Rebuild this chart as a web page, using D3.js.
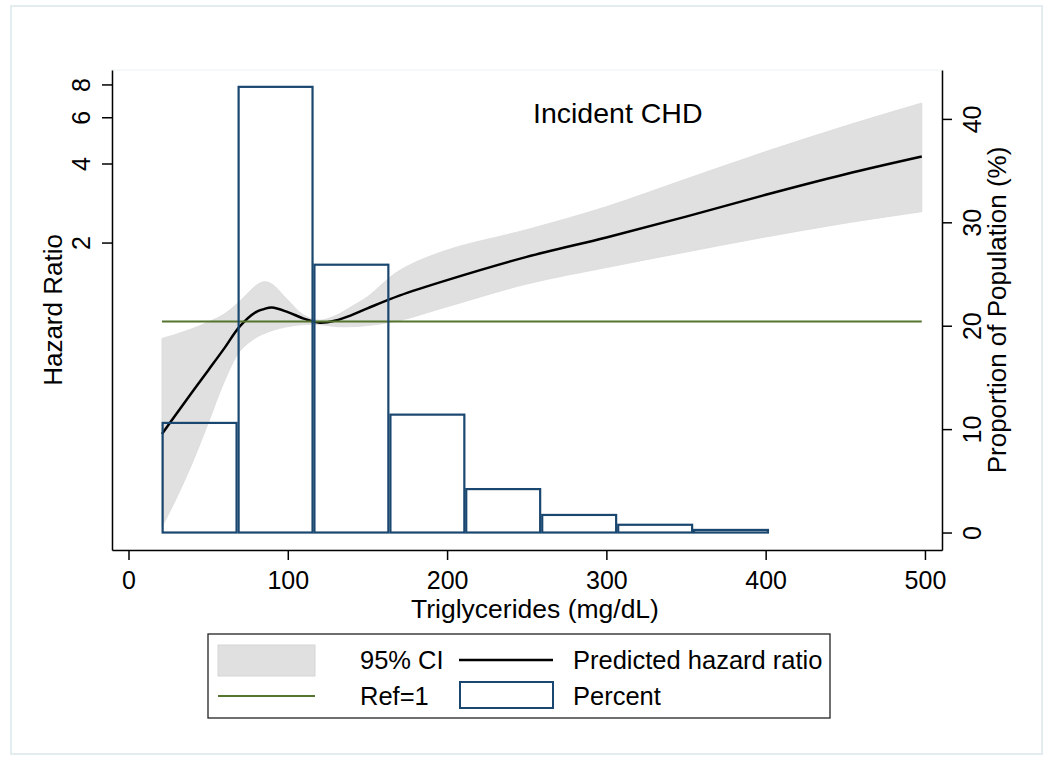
<!DOCTYPE html>
<html><head><meta charset="utf-8">
<script src="https://cdn.jsdelivr.net/npm/d3@7"></script>
<style>body{margin:0;background:#fff} text{font-family:"Liberation Sans",Arial,sans-serif;fill:#000}</style>
</head><body><svg id="c" width="1050" height="762"></svg>
<script>
// ---- data ----
const xTicks = [0, 100, 200, 300, 400, 500];
const hrTicks = [2, 4, 6, 8];
const pctTicks = [0, 10, 20, 30, 40];
const tg    = [21, 30, 40, 50, 60, 70, 80, 85, 90, 100, 110, 120, 130, 140, 150, 170, 200, 250, 300, 350, 400, 450, 498];
const hr    = [0.373, 0.445, 0.539, 0.652, 0.789, 0.961, 1.087, 1.116, 1.131, 1.087, 1.027, 0.990, 1.009, 1.059, 1.123, 1.256, 1.439, 1.764, 2.092, 2.51, 3.04, 3.64, 4.25];
const ciLo  = [0.165, 0.212, 0.289, 0.410, 0.588, 0.772, 0.869, 0.900, 0.924, 0.957, 0.974, 0.974, 0.957, 0.957, 0.966, 1.009, 1.139, 1.39, 1.606, 1.84, 2.10, 2.37, 2.62];
const ciHi  = [0.863, 0.896, 0.940, 0.996, 1.068, 1.197, 1.371, 1.418, 1.39, 1.208, 1.059, 1.013, 1.054, 1.141, 1.243, 1.564, 1.873, 2.24, 2.74, 3.49, 4.44, 5.56, 6.80];
const binLower = [20.8, 68.5, 116.1, 163.8, 211.4, 259.1, 306.8, 354.4];
const binWidth = 47.66;
const pct = [10.6, 43.1, 25.9, 11.4, 4.2, 1.7, 0.75, 0.25];
const refHR = 1;
const legendItems = ["95% CI", "Predicted hazard ratio", "Ref=1", "Percent"];

// ---- layout ----
const svg = d3.select('#c');
const L = 112, R = 942, T = 70, B = 550;
const FS = 25, FT = 26;
const navy = '#1a476f', green = '#55752f', band = '#e0e0e0';

svg.append('rect').attr('x', 11).attr('y', 6).attr('width', 1031).attr('height', 748)
  .attr('fill', '#fff').attr('stroke', '#e3edef').attr('stroke-width', 2);
svg.append('rect').attr('x', L).attr('y', T).attr('width', R - L).attr('height', B - T)
  .attr('fill', '#fff').attr('stroke', '#eef4f5').attr('stroke-width', 1);

const x = d3.scaleLinear().domain([-10.36, 510.7]).range([L, R]);
const yL = d3.scaleLog().domain([0.135, 9.08]).range([B, T]);
const yR = d3.scaleLinear().domain([-1.69, 44.73]).range([B, T]);

const pts = tg.map((t, i) => ({t, hr: hr[i], lo: ciLo[i], hi: ciHi[i]}));
const curve = d3.curveCatmullRom.alpha(0.5);

// CI band
svg.append('path').datum(pts)
  .attr('d', d3.area().x(d => x(d.t)).y0(d => yL(d.lo)).y1(d => yL(d.hi)).curve(curve))
  .attr('fill', band).attr('stroke', '#dadada').attr('stroke-width', 0.8);

// predicted HR
svg.append('path').datum(pts)
  .attr('d', d3.line().x(d => x(d.t)).y(d => yL(d.hr)).curve(curve))
  .attr('fill', 'none').attr('stroke', '#000').attr('stroke-width', 2.5);

// Ref line
svg.append('line').attr('x1', x(tg[0])).attr('x2', x(tg[tg.length - 1]))
  .attr('y1', yL(refHR)).attr('y2', yL(refHR))
  .attr('stroke', green).attr('stroke-width', 2);

// histogram
svg.append('g').selectAll('rect').data(pct).join('rect')
  .attr('x', (d, i) => x(binLower[i]) + 1)
  .attr('width', (d, i) => x(binLower[i] + binWidth) - x(binLower[i]) - 2)
  .attr('y', d => yR(d))
  .attr('height', d => Math.max(0.5, yR(0) - yR(d)))
  .attr('fill', 'none').attr('stroke', navy).attr('stroke-width', 2.2);

// axes
function styleAxis(g) {
  g.selectAll('path.domain').attr('stroke', '#000').attr('stroke-width', 1.5);
  g.selectAll('.tick line').attr('stroke', '#000').attr('stroke-width', 1.5);
  g.selectAll('text').style('font-size', FS + 'px').attr('fill', '#000')
    .style('font-family', '"Liberation Sans",Arial,sans-serif');
}
const gx = svg.append('g').attr('transform', `translate(0,${B})`)
  .call(d3.axisBottom(x).tickValues(xTicks).tickSize(10).tickSizeOuter(0).tickFormat(d3.format('d')));
styleAxis(gx);
gx.selectAll('text').attr('y', 0).attr('dy', 0).attr('transform', 'translate(0,39)');

const gl = svg.append('g').attr('transform', `translate(${L},0)`)
  .call(d3.axisLeft(yL).tickValues(hrTicks).tickSize(10).tickSizeOuter(0).tickFormat(d3.format('d')));
styleAxis(gl);
gl.selectAll('text').attr('x', 0).attr('dy', 0).attr('text-anchor', 'middle')
  .attr('transform', 'translate(-22,0) rotate(-90)');

const gr = svg.append('g').attr('transform', `translate(${R},0)`)
  .call(d3.axisRight(yR).tickValues(pctTicks).tickSize(10).tickSizeOuter(0).tickFormat(d3.format('d')));
styleAxis(gr);
gr.selectAll('text').attr('x', 0).attr('dy', 0).attr('text-anchor', 'middle')
  .attr('transform', 'translate(39,0) rotate(-90)');

// axis titles
svg.append('text').attr('x', 535).attr('y', 618).attr('text-anchor', 'middle')
  .style('font-size', '26.5px').text('Triglycerides (mg/dL)');
svg.append('text').attr('transform', `translate(62,${(T + B) / 2}) rotate(-90)`).attr('text-anchor', 'middle')
  .style('font-size', FT + 'px').text('Hazard Ratio');
svg.append('text').attr('transform', `translate(1006,${(T + B) / 2}) rotate(-90)`).attr('text-anchor', 'middle')
  .style('font-size', FT + 'px').text('Proportion of Population (%)');

// title text in plot
svg.append('text').attr('x', 533).attr('y', 123).style('font-size', '28.5px').text('Incident CHD');

// legend
const lg = svg.append('g');
lg.append('rect').attr('x', 208).attr('y', 634).attr('width', 622).attr('height', 84)
  .attr('fill', '#fff').attr('stroke', '#222').attr('stroke-width', 1.3);
lg.append('rect').attr('x', 218).attr('y', 645).attr('width', 97).attr('height', 31)
  .attr('fill', band).attr('stroke', '#d6d6d6');
lg.append('line').attr('x1', 459).attr('x2', 553).attr('y1', 660).attr('y2', 660)
  .attr('stroke', '#000').attr('stroke-width', 2.5);
lg.append('line').attr('x1', 218).attr('x2', 315).attr('y1', 696).attr('y2', 696)
  .attr('stroke', green).attr('stroke-width', 2);
lg.append('rect').attr('x', 460).attr('y', 682).attr('width', 93).attr('height', 26)
  .attr('fill', '#fff').attr('stroke', navy).attr('stroke-width', 2);
const lpos = [[360, 669], [573, 669], [360, 705], [573, 705]];
legendItems.forEach((s, i) => {
  lg.append('text').attr('x', lpos[i][0]).attr('y', lpos[i][1]).style('font-size', '25.5px').text(s);
});
</script></body></html>
